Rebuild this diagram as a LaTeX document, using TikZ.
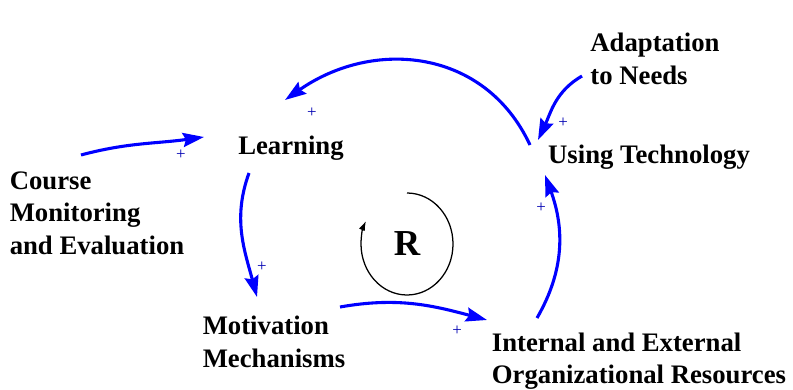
\documentclass[tikz,border=0pt]{standalone}
\usepackage{fontspec}
\setmainfont{Liberation Serif}
\usetikzlibrary{arrows.meta}

\begin{document}
\begin{tikzpicture}[x=0.025cm,y=0.025cm]
\tikzstyle{var}=[font=\fontsize{19}{23}\selectfont\bfseries,
align=left,inner sep=0pt]
\tikzstyle{link}=[draw=blue,line width=2.2pt,
-{Stealth[length=15pt,width=10pt,inset=2pt]}]
\tikzstyle{sign}=[text=blue!70!black,inner sep=0pt,
font=\fontsize{12}{12}\selectfont]
\useasboundingbox (0,0) rectangle (793,389);

\node[var] at (291,241) (learn) {Learning};
\node[var] at (97,176) (course) {Course\\Monitoring\\and Evaluation};
\node[var] at (655,330) (adapt) {Adaptation\\to Needs};
\node[var] at (649,232) (tech) {Using Technology};
\node[var] at (274,47) (motiv) {Motivation\\Mechanisms};
\node[var] at (639,28) (res) {Internal and External\\Organizational Resources};
\node[font=\fontsize{26}{26}\selectfont\bfseries] at (407,145) (R) {R};

\node[sign] at (181,234) (s1) {+};
\node[sign] at (262,122) (s2) {+};
\node[sign] at (457,58) (s3) {+};
\node[sign] at (541,181) (s4) {+};
\node[sign] at (312,276) (s5) {+};
\node[sign] at (563,266) (s6) {+};

\draw[link] ([shift={(-16,58)}]course.center) to[out=15,in=188] ([shift={(-87,11)}]learn.center);
\draw[link] ([shift={(-42,-25)}]learn.center) to[out=250,in=105] ([shift={(-17,45)}]motiv.center);
\draw[link] ([shift={(66,35)}]motiv.center) to[out=10,in=165] ([shift={(-152,41)}]res.center);
\draw[link] ([shift={(-102,43)}]res.center) to[out=60,in=290] ([shift={(-104,-18)}]tech.center);
\draw[link] ([shift={(-119,12)}]tech.center) to[out=115,in=35,looseness=1.1] ([shift={(-6,48)}]learn.center);
\draw[link] ([shift={(-73,-17)}]adapt.center) to[out=210,in=65] ([shift={(-111,17)}]tech.center);

\draw[line width=0.9pt,-{Latex[length=7pt,width=4.5pt]}] ([shift={(90:51)}]R.center)
  arc[start angle=90,end angle=-207,x radius=46,y radius=51];

\end{tikzpicture}
\end{document}
